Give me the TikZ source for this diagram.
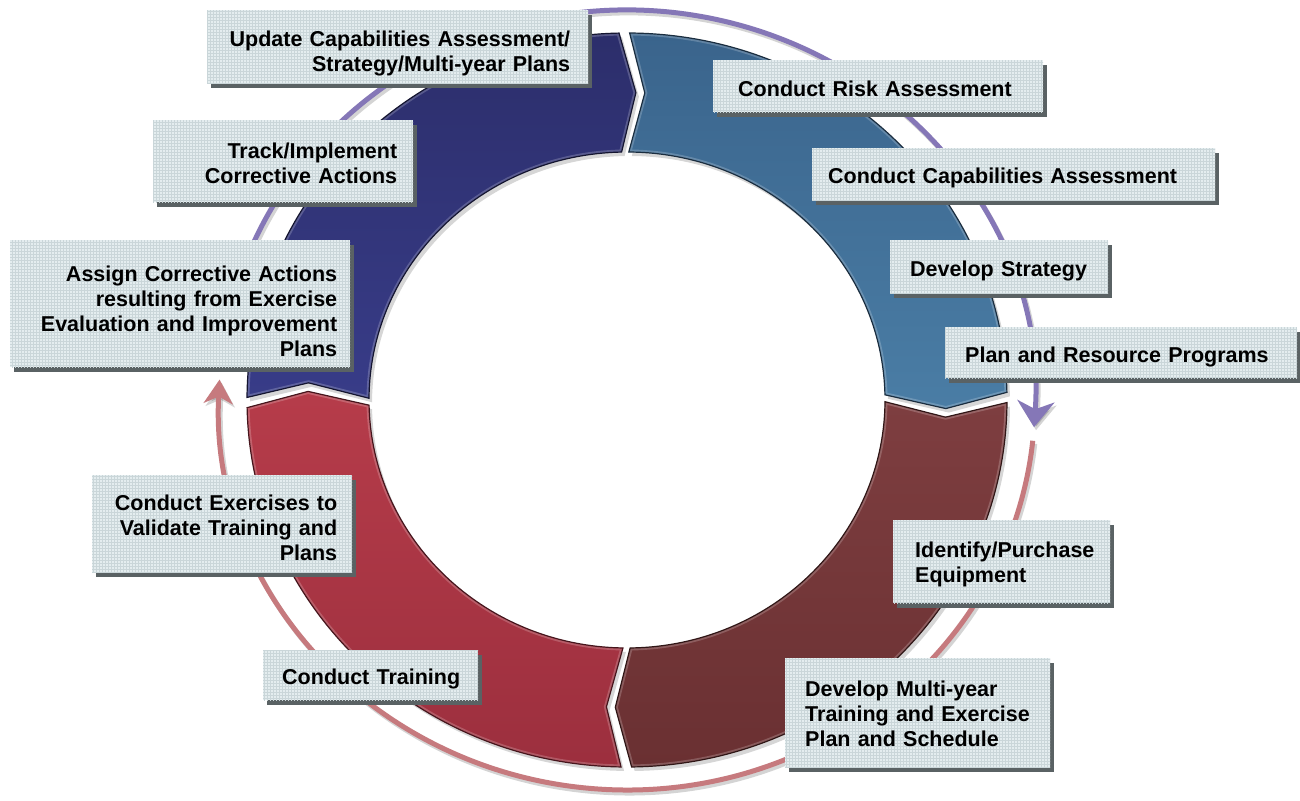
\documentclass[tikz,border=0pt]{standalone}
\usepackage{fontspec}
\setmainfont{Liberation Sans}
\usetikzlibrary{arrows.meta,shadows,patterns}

\definecolor{navyA}{HTML}{2C2E6B}
\definecolor{navyB}{HTML}{383C88}
\definecolor{blueA}{HTML}{3A648C}
\definecolor{blueB}{HTML}{4A7DA5}
\definecolor{brownA}{HTML}{7E3E40}
\definecolor{brownB}{HTML}{6A3032}
\definecolor{crimA}{HTML}{B63C4A}
\definecolor{crimB}{HTML}{9C2F3E}
\definecolor{arcpurple}{HTML}{8577B7}
\definecolor{arcred}{HTML}{C67A7E}
\definecolor{boxfill}{HTML}{E4EDEF}
\definecolor{boxgrid}{HTML}{CAD6D9}
\definecolor{boxshadow}{HTML}{5A6264}

\newcommand\segNavy{(179.6:380 and 367) arc[start angle=179.6,end angle=91.2,x radius=380,y radius=367] -- (88.4:319 and 307.5) -- (91.2:258 and 248) arc[start angle=91.2,end angle=179.6,x radius=258,y radius=248] -- (176.8:319 and 307.5) -- cycle}
\newcommand\segBlue{(89.6:380 and 367) arc[start angle=89.6,end angle=1.2,x radius=380,y radius=367] -- (-1.6:319 and 307.5) -- (1.2:258 and 248) arc[start angle=1.2,end angle=89.6,x radius=258,y radius=248] -- (86.8:319 and 307.5) -- cycle}
\newcommand\segBrown{(-0.4:380 and 367) arc[start angle=-0.4,end angle=-89.3,x radius=380,y radius=367] -- (-92.1:319 and 307.5) -- (-89.3:258 and 248) arc[start angle=-89.3,end angle=-0.4,x radius=258,y radius=248] -- (-3.2:319 and 307.5) -- cycle}
\newcommand\segCrim{(-90.9:380 and 367) arc[start angle=-90.9,end angle=-178.8,x radius=380,y radius=367] -- (-181.6:319 and 307.5) -- (-178.8:258 and 248) arc[start angle=-178.8,end angle=-90.9,x radius=258,y radius=248] -- (-93.7:319 and 307.5) -- cycle}
\newcommand\arcPurple{(165:408 and 390) arc[start angle=165,end angle=-4,x radius=408,y radius=390]}
\newcommand\arcRed{(-6:408 and 390) arc[start angle=-6,end angle=-183,x radius=408,y radius=390]}
\newcommand\topstrut[1]{\rule{0pt}{#1pt}}

\begin{document}
\begin{tikzpicture}[x=1pt,y=1pt,
  segshadow/.style={fill=black,opacity=.16,shift={(3,-4)}},
  bevel/.style={draw=white,opacity=.2,line width=5pt},
  ptip/.style={-{Stealth[length=26pt,width=37pt,inset=8pt]}},
  rtip/.style={-{Stealth[length=24pt,width=29pt,inset=7pt]}},
  arcshadow/.style={draw=black,opacity=.17,line width=5pt,shift={(2,-3)}},
  box/.style={fill=boxfill,postaction={pattern=grid,pattern color=boxgrid},
    drop shadow={shadow xshift=4pt,shadow yshift=-5pt,fill=boxshadow,opacity=1},
    inner ysep=0pt,anchor=north west,text=black,
    font=\bfseries\fontsize{21.5}{25}\selectfont},
  lbox/.style={box,align=left},
  rbox/.style={box,align=right}]
\useasboundingbox (0,0) rectangle (1300,800);
\fill[white] (0,0) rectangle (1300,800);

\begin{scope}[shift={(627,400)}]
  % outer cycle arrows
  \draw[arcshadow,ptip] \arcPurple;
  \draw[arcshadow,rtip] \arcRed;
  \draw[draw=arcpurple,line width=5pt,ptip] \arcPurple;
  \draw[draw=arcred,line width=5pt,rtip] \arcRed;

  % ring segment shadows
  \fill[segshadow] \segNavy;
  \fill[segshadow] \segBlue;
  \fill[segshadow] \segBrown;
  \fill[segshadow] \segCrim;

  % ring segments
  \shade[top color=navyA,bottom color=navyB] \segNavy;
  \begin{scope}\clip \segNavy; \draw[bevel] \segNavy; \end{scope}
  \draw[navyA!45!black,line width=1.2pt] \segNavy;

  \shade[top color=blueA,bottom color=blueB] \segBlue;
  \begin{scope}\clip \segBlue; \draw[bevel] \segBlue; \end{scope}
  \draw[blueA!45!black,line width=1.2pt] \segBlue;

  \shade[top color=brownA,bottom color=brownB] \segBrown;
  \begin{scope}\clip \segBrown; \draw[bevel] \segBrown; \end{scope}
  \draw[brownB!45!black,line width=1.2pt] \segBrown;

  \shade[top color=crimA,bottom color=crimB] \segCrim;
  \begin{scope}\clip \segCrim; \draw[bevel] \segCrim; \end{scope}
  \draw[crimB!45!black,line width=1.2pt] \segCrim;
\end{scope}

% label boxes
\node[rbox,text width=345pt,inner xsep=18pt,minimum height=73pt] (upd) at (207,790)
  {\topstrut{28.7}\mbox{Update Capabilities Assessment/}\\\mbox{Strategy/Multi-year Plans}};
\node[lbox,text width=280pt,inner xsep=25pt,minimum height=52pt] (risk) at (713,740)
  {\topstrut{21.7}\mbox{Conduct Risk Assessment}};
\node[lbox,text width=371pt,inner xsep=16pt,minimum height=52pt] (capa) at (812,652)
  {\topstrut{23.7}\mbox{Conduct Capabilities Assessment}};
\node[lbox,text width=178pt,inner xsep=20pt,minimum height=53pt] (strat) at (890,560)
  {\topstrut{23.7}\mbox{Develop Strategy}};
\node[lbox,text width=312pt,inner xsep=20pt,minimum height=51pt] (plan) at (945,473)
  {\topstrut{23.7}\mbox{Plan and Resource Programs}};
\node[lbox,text width=173pt,inner xsep=22pt,minimum height=83pt] (ident) at (893,280)
  {\topstrut{21.7}\mbox{Identify/Purchase}\\\mbox{Equipment}};
\node[lbox,text width=225pt,inner xsep=20pt,minimum height=109pt] (devmy) at (785,142)
  {\topstrut{17.7}\mbox{Develop Multi-year}\\\mbox{Training and Exercise}\\\mbox{Plan and Schedule}};
\node[lbox,text width=177pt,inner xsep=19pt,minimum height=50pt] (train) at (263,150)
  {\topstrut{23.7}\mbox{Conduct Training}};
\node[rbox,text width=230pt,inner xsep=15pt,minimum height=97pt] (exer) at (92,325)
  {\topstrut{23.7}\mbox{Conduct Exercises to}\\\mbox{Validate Training and}\\\mbox{Plans}};
\node[rbox,text width=314pt,inner xsep=13pt,minimum height=127pt] (assign) at (10,560)
  {\topstrut{31.7}\mbox{Assign Corrective Actions}\\\mbox{resulting from Exercise}\\\mbox{Evaluation and Improvement}\\\mbox{Plans}};
\node[rbox,text width=228pt,inner xsep=16pt,minimum height=82pt] (track) at (153,680)
  {\topstrut{19.7}\mbox{Track/Implement}\\\mbox{Corrective Actions}};
\end{tikzpicture}
\end{document}
